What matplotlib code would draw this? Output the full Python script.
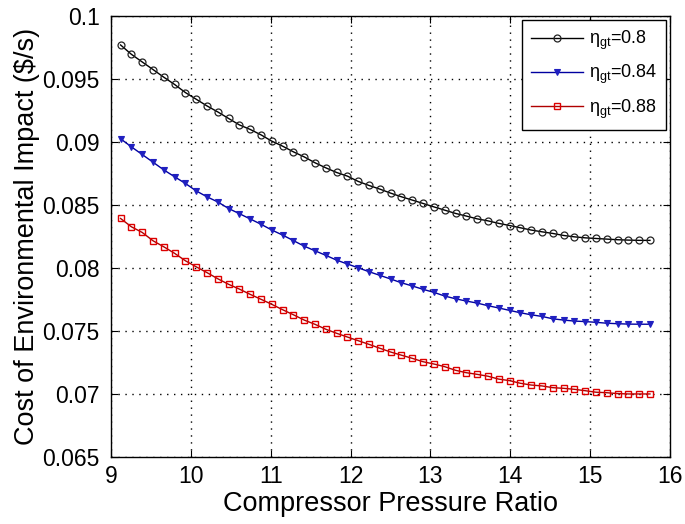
import matplotlib
matplotlib.use("Agg")
import matplotlib.pyplot as plt

plt.rcParams['font.family'] = ['Liberation Sans', 'DejaVu Sans']
plt.rcParams['mathtext.fontset'] = 'custom'
plt.rcParams['mathtext.rm'] = 'Liberation Sans'
plt.rcParams['mathtext.it'] = 'Liberation Sans'

# compressor pressure ratio (50 operating points)
pressure_ratio = [9.120, 9.255, 9.391, 9.526, 9.661, 9.797, 9.932, 10.067, 10.202, 10.338,
                  10.473, 10.608, 10.744, 10.879, 11.014, 11.150, 11.285, 11.420, 11.556, 11.691,
                  11.826, 11.962, 12.097, 12.232, 12.368, 12.503, 12.638, 12.773, 12.909, 13.044,
                  13.179, 13.315, 13.450, 13.585, 13.721, 13.856, 13.991, 14.127, 14.262, 14.397,
                  14.533, 14.668, 14.803, 14.939, 15.074, 15.209, 15.344, 15.480, 15.615, 15.750]

cost_080 = [0.09772, 0.09698, 0.09637, 0.09577, 0.09516, 0.09458, 0.09394, 0.09341, 0.09288, 0.09240,
            0.09188, 0.09137, 0.09101, 0.09058, 0.09008, 0.08968, 0.08923, 0.08883, 0.08836, 0.08796,
            0.08759, 0.08730, 0.08688, 0.08656, 0.08627, 0.08595, 0.08566, 0.08540, 0.08513, 0.08486,
            0.08460, 0.08434, 0.08413, 0.08391, 0.08375, 0.08355, 0.08338, 0.08320, 0.08302, 0.08288,
            0.08275, 0.08259, 0.08248, 0.08240, 0.08235, 0.08230, 0.08225, 0.08222, 0.08220, 0.08220]

cost_084 = [0.09027, 0.08963, 0.08902, 0.08841, 0.08780, 0.08725, 0.08672, 0.08613, 0.08566, 0.08525,
            0.08473, 0.08432, 0.08390, 0.08348, 0.08302, 0.08262, 0.08218, 0.08174, 0.08137, 0.08101,
            0.08063, 0.08032, 0.08002, 0.07971, 0.07942, 0.07913, 0.07883, 0.07858, 0.07831, 0.07807,
            0.07778, 0.07756, 0.07738, 0.07722, 0.07701, 0.07683, 0.07664, 0.07645, 0.07629, 0.07616,
            0.07597, 0.07587, 0.07579, 0.07575, 0.07569, 0.07562, 0.07558, 0.07555, 0.07554, 0.07554]

cost_088 = [0.08394, 0.08328, 0.08283, 0.08217, 0.08169, 0.08117, 0.08058, 0.08010, 0.07964, 0.07915,
            0.07871, 0.07833, 0.07791, 0.07752, 0.07712, 0.07669, 0.07629, 0.07587, 0.07553, 0.07514,
            0.07482, 0.07452, 0.07423, 0.07394, 0.07363, 0.07333, 0.07308, 0.07283, 0.07256, 0.07238,
            0.07217, 0.07188, 0.07169, 0.07156, 0.07141, 0.07118, 0.07106, 0.07085, 0.07071, 0.07064,
            0.07050, 0.07045, 0.07037, 0.07026, 0.07014, 0.07010, 0.07003, 0.07000, 0.07000, 0.07000]

labels = ['η$_{\\mathrm{gt}}$=0.8', 'η$_{\\mathrm{gt}}$=0.84', 'η$_{\\mathrm{gt}}$=0.88']
x_ticks = [9, 10, 11, 12, 13, 14, 15, 16]
y_ticks = [0.065, 0.07, 0.075, 0.08, 0.085, 0.09, 0.095, 0.1]
y_ticklabels = ['0.065', '0.07', '0.075', '0.08', '0.085', '0.09', '0.095', '0.1']

fig = plt.figure(figsize=(6.85, 5.24), dpi=100)
ax = fig.add_axes([0.162, 0.128, 0.816, 0.841])

ax.plot(pressure_ratio, cost_080, color='black', lw=1.0, marker='o', ms=5,
        mfc='none', mec='#222222', mew=0.9, label=labels[0])
ax.plot(pressure_ratio, cost_084, color='#0000A0', lw=1.0, marker='v', ms=5,
        mfc='#2020C0', mec='#2020C0', mew=0.8, label=labels[1])
ax.plot(pressure_ratio, cost_088, color='#B00000', lw=1.0, marker='s', ms=5,
        mfc='none', mec='#DD0000', mew=1.0, label=labels[2])

ax.set_xlim(9, 16)
ax.set_ylim(0.065, 0.1)
ax.set_xticks(x_ticks)
ax.set_yticks(y_ticks)
ax.set_yticklabels(y_ticklabels)
ax.tick_params(direction='in', top=True, right=True, labelsize=16.5, length=5)
ax.tick_params(axis='y', pad=8)
ax.tick_params(axis='x', pad=6)
ax.grid(True, color='black', linestyle=(0, (1, 4)), linewidth=1.0)
for s in ax.spines.values():
    s.set_linewidth(1.0)

ax.set_xlabel('Compressor Pressure Ratio', fontsize=19.5, labelpad=2)
ax.set_ylabel('Cost of Environmental Impact ($/s)', fontsize=19.5, labelpad=2)

leg = ax.legend(loc='upper right', fontsize=13, frameon=True, fancybox=False,
                edgecolor='black', framealpha=1, handlelength=2.9, borderpad=0.5,
                labelspacing=0.6, handletextpad=0.3, borderaxespad=0.22)
leg.get_frame().set_linewidth(1.0)

fig.savefig('out.png', dpi=100)
